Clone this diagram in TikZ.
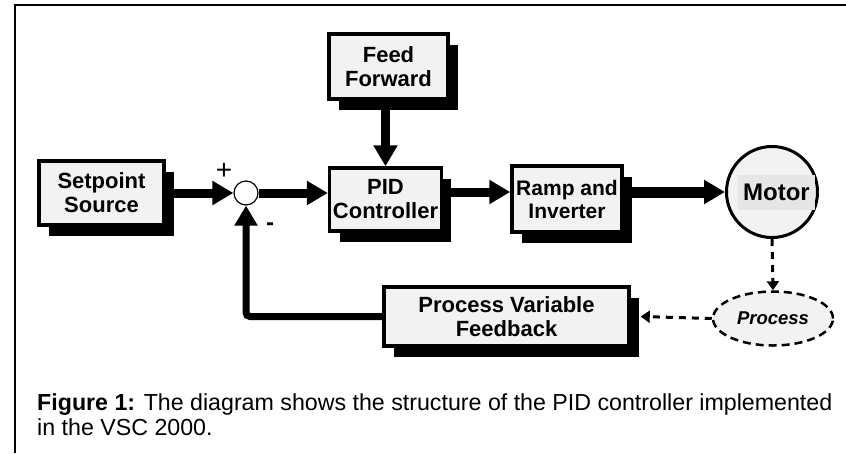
\documentclass[tikz,border=0pt]{standalone}
\usepackage{fontspec}
\setmainfont{Liberation Sans}
\usetikzlibrary{arrows.meta,shapes.geometric,shadows}
\definecolor{boxgray}{HTML}{F2F2F2}
\definecolor{labelgray}{HTML}{E6E6E6}
\begin{document}
\begin{tikzpicture}[x=1pt,y=-1pt,
    block/.style={draw, line width=3.5pt, fill=boxgray, align=center,
      font=\fontsize{22}{24}\selectfont\bfseries,
      drop shadow={shadow xshift=10pt, shadow yshift=-10.5pt, fill=black, opacity=1}},
    flow/.style={line width=9pt, -{Triangle[length=21pt,width=23pt]}},
    signal/.style={line width=3pt, dash pattern=on 7pt off 6pt, -{Triangle[length=9pt,width=12pt]}}]
  \useasboundingbox (0,0) rectangle (846,453);
  \draw [line width=2.5pt] (15,453) -- (15,5) -- (846,5);
  % blocks
  \node [block, minimum width=125, minimum height=64] (setpoint) at (101.5,193) {Setpoint\\Source};
  \node [block, minimum width=119, minimum height=65] (ff) at (388.5,66.5) {Feed\\Forward};
  \node [block, minimum width=109, minimum height=63] (pid) at (385.5,199.5) {PID\\Controller};
  \node [block, minimum width=110, minimum height=66, font=\fontsize{21}{23}\selectfont\bfseries] (ramp) at (567,199) {Ramp and\\Inverter};
  \node [block, minimum width=245, minimum height=59] (pvf) at (506.5,316.5) {Process Variable\\Feedback};
  \node [circle, draw, line width=1.2pt, fill=white, minimum size=24] (sum) at (246,193) {};
  \node [circle, draw, line width=3pt, fill=boxgray, minimum size=91] (motor) at (772,192) {};
  \node [fill=labelgray, minimum width=77, minimum height=35, font=\fontsize{24}{28}\selectfont\bfseries] (motorlabel) at (776.5,192.5) {Motor};
  \node [ellipse, draw, line width=2.5pt, dash pattern=on 8pt off 5pt, fill=boxgray, minimum width=120, minimum height=54,
    font=\fontsize{18.5}{22}\selectfont\bfseries\itshape] (process) at (773,318.5) {Process};
  \node [font=\fontsize{28}{28}\selectfont] (plus) at (224,171) {+};
  \node [font=\fontsize{24}{24}\selectfont\bfseries] (minus) at (270,227) {-};
  % connectors
  \draw [flow] (setpoint.east) -- (sum.west);
  \draw [flow] (sum.east) -- (sum.east -| pid.west);
  \draw [flow] (pid.north |- ff.south) -- (pid.north);
  \draw [flow] (pid.east |- motor) -- (ramp.west |- motor);
  \draw [flow, line width=11pt] (ramp.east |- motor) -- (motor.west);
  \draw [signal] (motor.south) -- (process.north);
  \draw [signal] (process.west) -- ([xshift=10pt]pvf.east);
  \draw [line width=7pt, rounded corners=4pt, -{Triangle[length=20pt,width=22pt]}] (pvf.west) -- (pvf.west -| sum) -- (sum.south);
  \node [anchor=north west, align=left, inner sep=0, font=\fontsize{23.2}{25}\selectfont] (caption) at (37,393)
    {\textbf{Figure 1:} The diagram shows the structure of the PID controller implemented\\in the VSC 2000.};
\end{tikzpicture}
\end{document}
